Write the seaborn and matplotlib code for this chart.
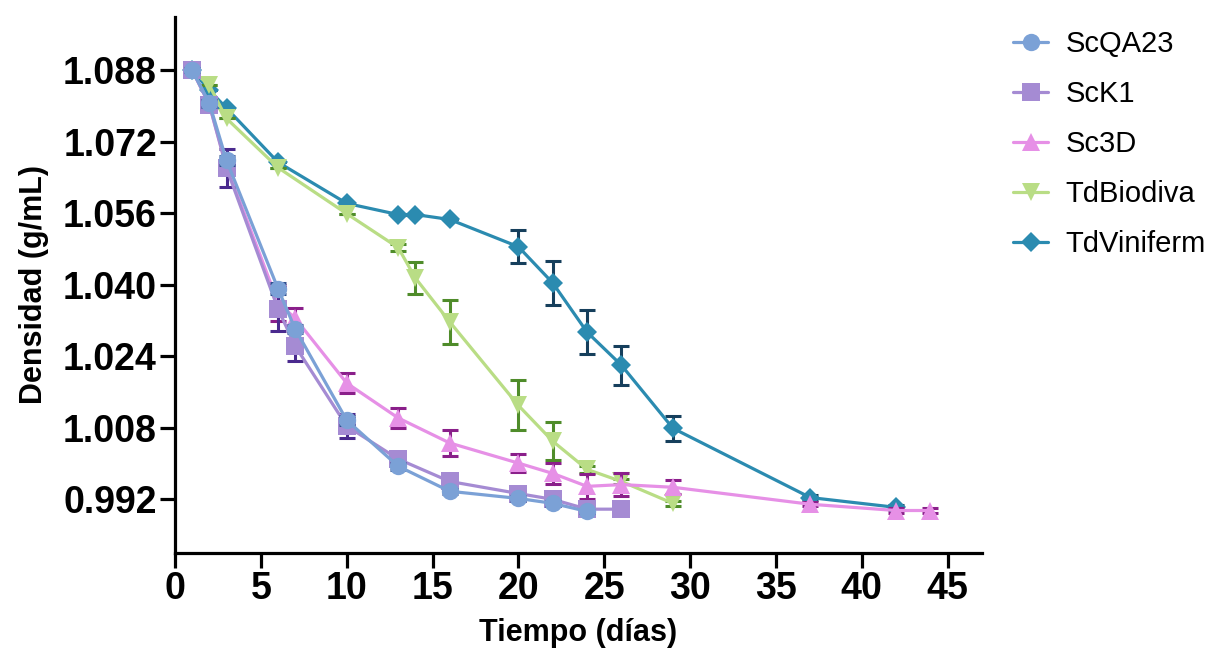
import numpy as np
import pandas as pd
import matplotlib
matplotlib.use("Agg")
import matplotlib.pyplot as plt
import seaborn as sns

# ---------------- data ----------------
series_names = ["ScQA23", "ScK1", "Sc3D", "TdBiodiva", "TdViniferm"]

days_qa = [1, 2, 3, 6, 7, 10, 13, 16, 20, 22, 24]
dens_qa = [1.088, 1.0806, 1.0678, 1.0391, 1.0301, 1.0097, 0.9994, 0.9938, 0.9922, 0.9911, 0.9893]
err_qa = [0.0005, 0.0008, 0.0010, 0.0012, 0.0010, 0.0010, 0.0008, 0.0005, 0.0005, 0.0005, 0.0004]

days_k1 = [1, 2, 3, 6, 7, 10, 13, 16, 20, 22, 24, 26]
dens_k1 = [1.088, 1.0803, 1.0661, 1.0346, 1.0263, 1.0084, 1.0010, 0.9960, 0.9933, 0.9920, 0.9898, 0.9898]
err_k1 = [0.0005, 0.0010, 0.0042, 0.0050, 0.0034, 0.0026, 0.0015, 0.0008, 0.0008, 0.0006, 0.0005, 0.0005]

days_3d = [1, 2, 3, 6, 7, 10, 13, 16, 20, 22, 24, 26, 29, 37, 42, 44]
dens_3d = [1.088, 1.0803, 1.0665, 1.0360, 1.0325, 1.0180, 1.0102, 1.0046, 1.0001, 0.9978, 0.9949,
           0.9953, 0.9947, 0.9909, 0.9895, 0.9895]
err_3d = [0.0005, 0.0008, 0.0015, 0.0040, 0.0022, 0.0023, 0.0023, 0.0028, 0.0020, 0.0023, 0.0028,
          0.0026, 0.0016, 0.0005, 0.0005, 0.0005]

days_bio = [1, 2, 3, 6, 10, 13, 14, 16, 20, 22, 24, 26, 29]
dens_bio = [1.088, 1.0846, 1.0772, 1.0662, 1.0559, 1.0483, 1.0415, 1.0317, 1.0130, 1.0050, 0.9987,
            0.9960, 0.9911]
err_bio = [0.0, 0.0, 0.0, 0.0, 0.0, 0.0008, 0.0035, 0.0050, 0.0056, 0.0043, 0.0008, 0.0006, 0.0005]

days_vin = [1, 2, 3, 6, 10, 13, 14, 16, 20, 22, 24, 26, 29, 37, 42]
dens_vin = [1.088, 1.0835, 1.0795, 1.0674, 1.0582, 1.0557, 1.0557, 1.0546, 1.0485, 1.0404, 1.0294,
            1.0220, 1.0079, 0.9924, 0.9902]
err_vin = [0.0, 0.0, 0.0, 0.0, 0.0, 0.0, 0.0, 0.0, 0.0037, 0.0050, 0.0050, 0.0044, 0.0028, 0.0005, 0.0005]

y_ticks = [0.992, 1.008, 1.024, 1.040, 1.056, 1.072, 1.088]
x_ticks = [0, 5, 10, 15, 20, 25, 30, 35, 40, 45]

# ---------------- style ----------------
sns.set_style("ticks")
plt.rcParams["font.family"] = ["Liberation Sans", "DejaVu Sans"]
plt.rcParams["text.color"] = "black"
plt.rcParams["axes.labelcolor"] = "black"
plt.rcParams["xtick.color"] = "black"
plt.rcParams["ytick.color"] = "black"

line_colors = ["#7BA1D6", "#A58BD3", "#E690E6", "#B9DD85", "#2B8BB0"]
err_colors = ["#2F4F8F", "#4A2A8E", "#8A1F8A", "#4F8C2A", "#163F5C"]
markers = ["o", "s", "^", "v", "D"]
msizes = [12.5, 12.5, 13, 13, 10.5]

all_days = [days_qa, days_k1, days_3d, days_bio, days_vin]
all_dens = [dens_qa, dens_k1, dens_3d, dens_bio, dens_vin]
all_err = [err_qa, err_k1, err_3d, err_bio, err_vin]

fig = plt.figure(figsize=(12.29, 6.66), dpi=100)
ax = fig.add_axes([0.1424, 0.1697, 0.6566, 0.8055])

for i, name in enumerate(series_names):
    df = pd.DataFrame({"Tiempo": all_days[i], "Densidad": all_dens[i]})
    z = 20 - 3 * i
    ax.errorbar(all_days[i], all_dens[i], yerr=all_err[i], fmt="none",
                ecolor=err_colors[i], elinewidth=2.2, capsize=6, capthick=2.2, zorder=z - 1)
    sns.lineplot(data=df, x="Tiempo", y="Densidad", ax=ax, color=line_colors[i],
                 marker=markers[i], markersize=msizes[i], markeredgewidth=0,
                 linewidth=2.3, label=name, zorder=z, estimator=None, sort=False)

ax.set_xlim(0, 47)
ax.set_ylim(0.98, 1.10)
ax.set_xticks(x_ticks)
ax.set_yticks(y_ticks)
ax.set_yticklabels([f"{v:.3f}" for v in y_ticks])

for s in ["top", "right"]:
    ax.spines[s].set_visible(False)
for s in ["left", "bottom"]:
    ax.spines[s].set_linewidth(2.3)
    ax.spines[s].set_color("black")

ax.tick_params(axis="both", which="major", length=11, width=2.3, color="black",
               labelcolor="black", labelsize=27, pad=2)
for lab in ax.get_xticklabels() + ax.get_yticklabels():
    lab.set_fontweight("bold")

ax.set_xlabel("Tiempo (días)", fontsize=22, fontweight="bold", labelpad=8, color="black")
ax.set_ylabel("Densidad (g/mL)", fontsize=22, fontweight="bold", labelpad=10, color="black")

handles, labels = ax.get_legend_handles_labels()
ax.legend_.remove()
leg = fig.legend(handles, labels, loc="upper left", bbox_to_anchor=(0.815, 0.972),
                 frameon=False, fontsize=21, handlelength=1.2, handletextpad=0.6,
                 labelspacing=0.75, borderaxespad=0)
for t in leg.get_texts():
    t.set_color("black")

fig.savefig("out.png", dpi=100)
